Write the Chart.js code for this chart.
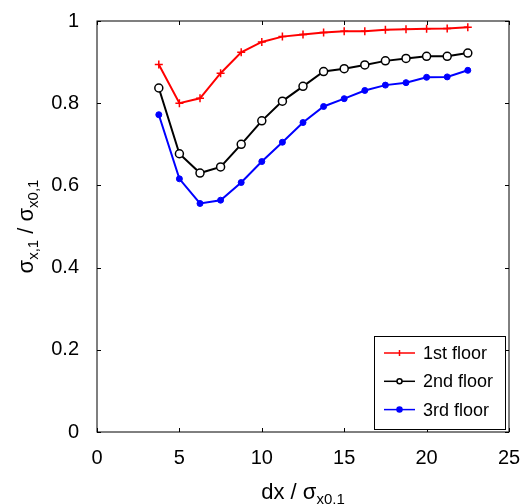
<!DOCTYPE html>
<html lang="en">
  <head>
    <meta charset="UTF-8" />
    <title>sigma ratio</title>
    <style>
      html, body { margin: 0; padding: 0; background: #ffffff; }
      .chart { width: 522px; height: 504px; }
    </style>
    <script src="https://cdn.jsdelivr.net/npm/chart.js"></script>
  </head>
  <body>
    <div class="chart">
      <canvas id="myChart" width="522" height="504"></canvas>
    </div>
    <script>
      const xValues = [3.75, 5, 6.25, 7.5, 8.75, 10, 11.25, 12.5, 13.75, 15, 16.25, 17.5, 18.75, 20, 21.25, 22.5];
      const floor1 = [0.894, 0.80, 0.812, 0.873, 0.924, 0.949, 0.962, 0.967, 0.972, 0.975, 0.975, 0.979, 0.980, 0.981, 0.982, 0.985];
      const floor2 = [0.837, 0.677, 0.630, 0.645, 0.700, 0.757, 0.805, 0.841, 0.877, 0.884, 0.893, 0.903, 0.909, 0.914, 0.914, 0.922];
      const floor3 = [0.772, 0.616, 0.556, 0.564, 0.607, 0.658, 0.705, 0.753, 0.792, 0.811, 0.831, 0.844, 0.850, 0.863, 0.864, 0.880];
      const seriesNames = ["1st floor", "2nd floor", "3rd floor"];
      const xTicks = [0, 5, 10, 15, 20, 25];
      const yTicks = [0, 0.2, 0.4, 0.6, 0.8, 1];

      const FONT = "'Liberation Sans', Arial, sans-serif";
      const toPoints = (ys) => ys.map((y, i) => ({ x: xValues[i], y: y }));

      // draws text with subscript parts, centred on (0,0) of the current transform
      function drawParts(ctx, parts, size, subSize) {
        let total = 0;
        parts.forEach((p) => {
          ctx.font = (p.sub ? subSize : size) + "px " + FONT;
          total += ctx.measureText(p.t).width;
        });
        let x = -total / 2;
        parts.forEach((p) => {
          ctx.font = (p.sub ? subSize : size) + "px " + FONT;
          ctx.fillText(p.t, x, p.sub ? 5 : 0);
          x += ctx.measureText(p.t).width;
        });
      }

      const framePlugin = {
        id: "frame",
        afterDraw(chart) {
          const { ctx, chartArea: a, scales } = chart;
          ctx.save();
          ctx.strokeStyle = "#000";
          ctx.lineWidth = 1;
          ctx.strokeRect(a.left, a.top, a.right - a.left, a.bottom - a.top);
          // inward ticks on all four sides
          ctx.beginPath();
          xTicks.forEach((v) => {
            const px = Math.round(scales.x.getPixelForValue(v)) + 0.5;
            ctx.moveTo(px, a.bottom); ctx.lineTo(px, a.bottom - 4);
            ctx.moveTo(px, a.top); ctx.lineTo(px, a.top + 4);
          });
          yTicks.forEach((v) => {
            const py = Math.round(scales.y.getPixelForValue(v)) + 0.5;
            ctx.moveTo(a.left, py); ctx.lineTo(a.left + 4, py);
            ctx.moveTo(a.right, py); ctx.lineTo(a.right - 4, py);
          });
          ctx.stroke();

          // axis titles
          ctx.fillStyle = "#000";
          ctx.textBaseline = "alphabetic";
          ctx.save();
          ctx.translate((a.left + a.right) / 2, 499);
          drawParts(ctx, [{ t: "dx / σ" }, { t: "x0,1", sub: true }], 22, 15);
          ctx.restore();
          ctx.save();
          ctx.translate(33, (a.top + a.bottom) / 2);
          ctx.rotate(-Math.PI / 2);
          drawParts(ctx, [{ t: "σ" }, { t: "x,1", sub: true }, { t: " / σ" }, { t: "x0,1", sub: true }], 22, 15);
          ctx.restore();

          // legend box
          const lx = 374, ly = 336, lw = 131, lh = 93;
          ctx.fillStyle = "#fff";
          ctx.fillRect(lx, ly, lw, lh);
          ctx.strokeRect(lx + 0.5, ly + 0.5, lw, lh);
          chart.data.datasets.forEach((ds, i) => {
            const y = 353 + i * 28.3;
            ctx.strokeStyle = ds.borderColor;
            ctx.lineWidth = 1.5;
            ctx.beginPath();
            ctx.moveTo(384, y); ctx.lineTo(415, y);
            ctx.stroke();
            if (ds.pointStyle === "cross") {
              ctx.beginPath();
              ctx.moveTo(399.5, y - 3); ctx.lineTo(399.5, y + 3);
              ctx.stroke();
            } else {
              ctx.beginPath();
              ctx.arc(399.5, y, 2.5, 0, Math.PI * 2);
              ctx.fillStyle = ds.pointBackgroundColor;
              ctx.fill();
              ctx.stroke();
            }
            ctx.fillStyle = "#000";
            ctx.font = "18px " + FONT;
            ctx.textBaseline = "middle";
            ctx.fillText(ds.label, 423, y + 1);
          });
          ctx.restore();
        }
      };

      const config = {
        type: "line",
        data: {
          datasets: [
            {
              label: seriesNames[0],
              data: toPoints(floor1),
              borderColor: "#ff0000",
              backgroundColor: "#ff0000",
              pointBackgroundColor: "#ff0000",
              pointStyle: "cross",
              pointRadius: 4,
              pointBorderWidth: 1.5,
              borderWidth: 2
            },
            {
              label: seriesNames[1],
              data: toPoints(floor2),
              borderColor: "#000000",
              backgroundColor: "#ffffff",
              pointBackgroundColor: "#ffffff",
              pointStyle: "circle",
              pointRadius: 4,
              pointBorderWidth: 1.5,
              borderWidth: 2
            },
            {
              label: seriesNames[2],
              data: toPoints(floor3),
              borderColor: "#0000ff",
              backgroundColor: "#0000ff",
              pointBackgroundColor: "#0000ff",
              pointStyle: "circle",
              pointRadius: 3,
              pointBorderWidth: 1,
              borderWidth: 2
            }
          ]
        },
        options: {
          responsive: false,
          animation: false,
          layout: { padding: { left: 0, right: 13, top: 21, bottom: 0 } },
          plugins: { legend: { display: false }, tooltip: { enabled: false } },
          scales: {
            x: {
              type: "linear",
              min: 0,
              max: 25,
              afterFit: (s) => { s.height = 72; s.paddingLeft = 0; s.paddingRight = 0; },
              afterBuildTicks: (s) => { s.ticks = xTicks.map((v) => ({ value: v })); },
              grid: { display: false, drawTicks: false },
              border: { display: false },
              ticks: { color: "#000", padding: 14, font: { family: FONT, size: 20 }, callback: (v) => String(v) }
            },
            y: {
              min: 0,
              max: 1,
              afterFit: (s) => { s.width = 97; s.paddingTop = 0; s.paddingBottom = 0; },
              afterBuildTicks: (s) => { s.ticks = yTicks.map((v) => ({ value: v })); },
              grid: { display: false, drawTicks: false },
              border: { display: false },
              ticks: { color: "#000", padding: 18, font: { family: FONT, size: 20 }, callback: (v) => String(Math.round(v * 10) / 10) }
            }
          }
        },
        plugins: [framePlugin]
      };
      const myChart = new Chart(document.getElementById("myChart"), config);
    </script>
  </body>
</html>
